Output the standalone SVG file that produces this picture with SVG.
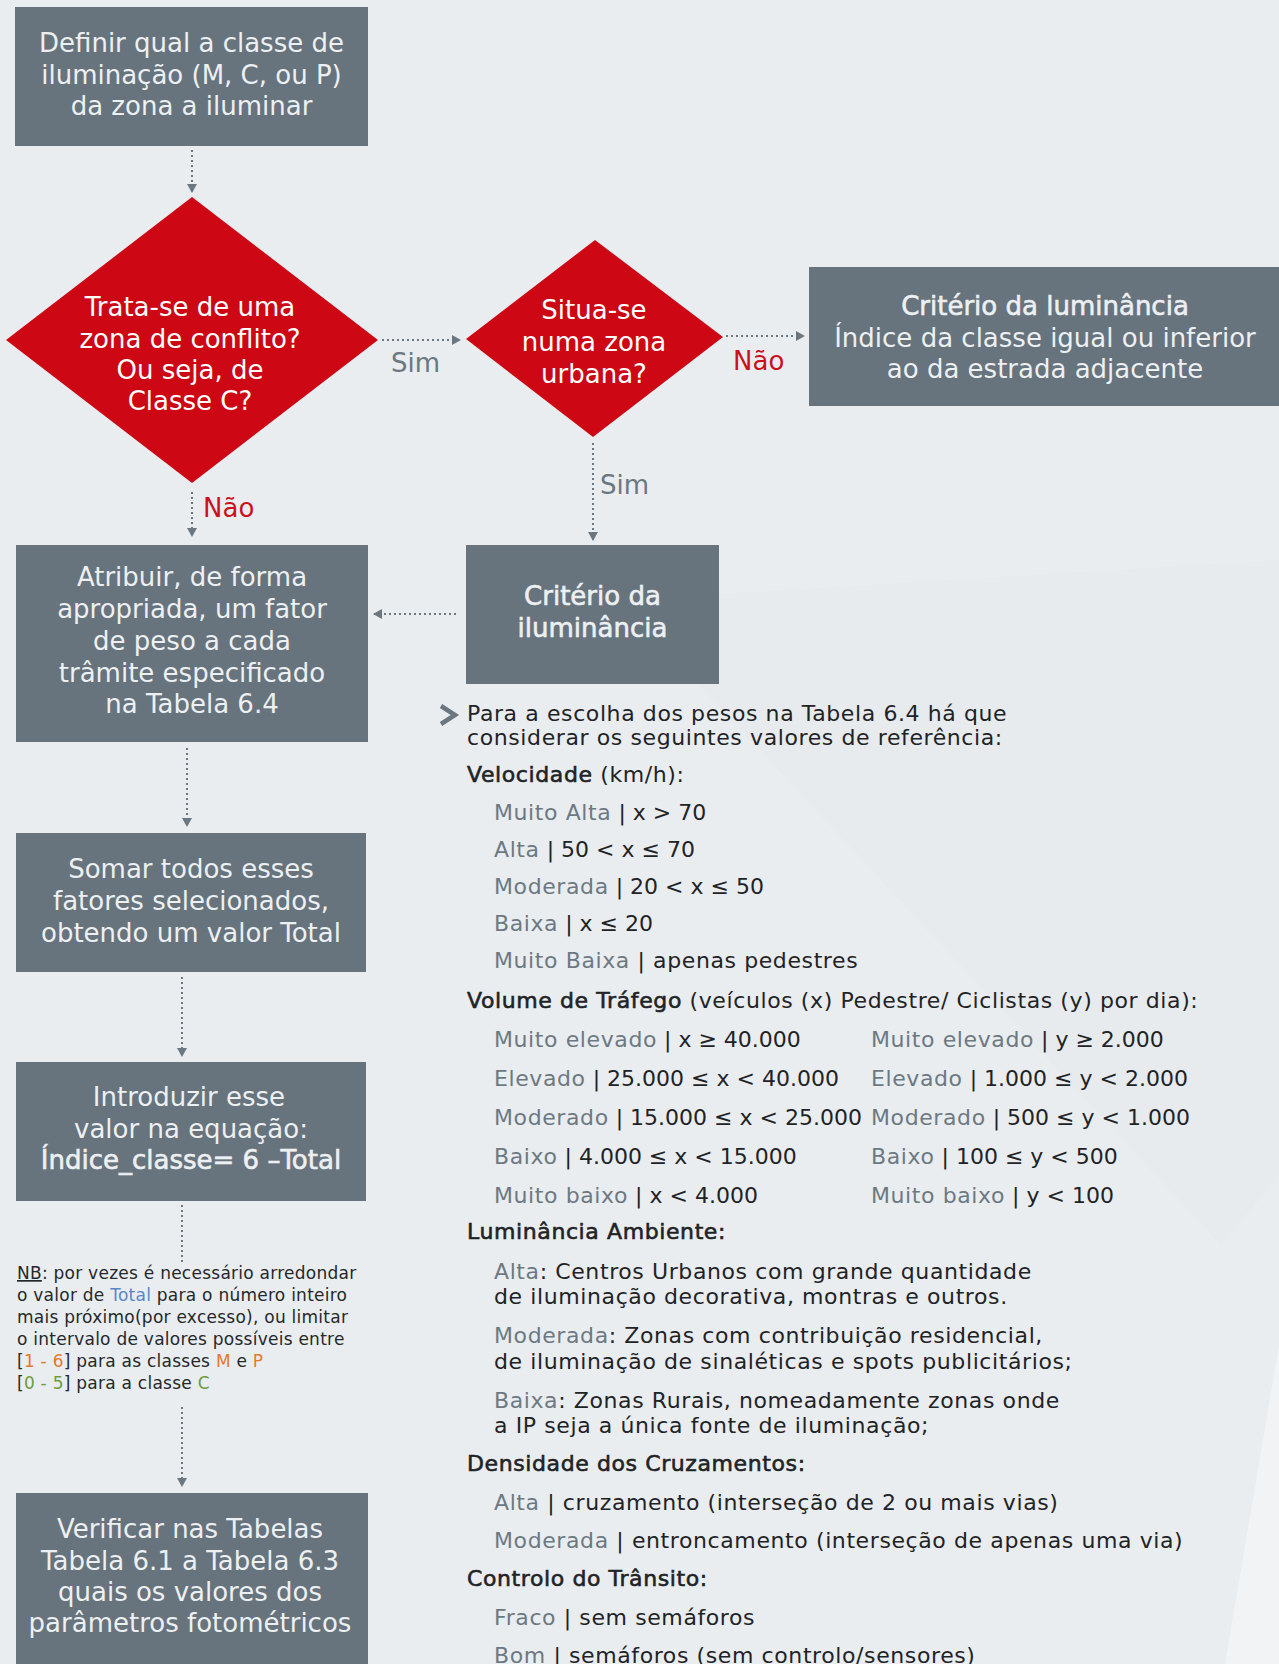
<svg xmlns="http://www.w3.org/2000/svg" width="1279" height="1664" viewBox="0 0 1279 1664">
  <defs>
    <style>
      .bg { fill: #e9edf0; }
      .box { fill: #67747d; }
      .dia { fill: #cd0714; }
      .bt { font-family: "DejaVu Sans", "Liberation Sans", sans-serif; font-size: 26px; fill: #edf0f2; text-anchor: middle; }
      .dt { font-family: "DejaVu Sans", "Liberation Sans", sans-serif; font-size: 26px; fill: #ffffff; text-anchor: middle; }
      .semi { stroke: #edf0f2; stroke-width: 0.6px; }
      .lbl { font-family: "DejaVu Sans", "Liberation Sans", sans-serif; font-size: 26px; }
      .lg { fill: #6b7780; }
      .lr { fill: #cc1020; }
      .conn { stroke: #6b7781; stroke-width: 2; stroke-dasharray: 2 3; fill: none; }
      .rt { font-family: "DejaVu Sans", "Liberation Sans", sans-serif; font-size: 22px; letter-spacing: 0.6px; fill: #1f2326; }
      .num { letter-spacing: 0px; }
      .num .gk { letter-spacing: 0.6px; }
      .hd { stroke: #1f2326; stroke-width: 0.6px; }
      .gk { fill: #6d7982; }
      .nb { font-family: "DejaVu Sans", "Liberation Sans", sans-serif; font-size: 17px; letter-spacing: 0.25px; fill: #262829; }
      .blue { fill: #5a86c6; }
      .orange { fill: #e5792a; }
      .green { fill: #6e9b3b; }
    </style>
    <marker id="arrow" markerUnits="userSpaceOnUse" markerWidth="10" markerHeight="10" refX="9" refY="5" orient="auto">
      <path d="M0,0 L9,5 L0,10 z" fill="#6b7781"/>
    </marker>
  </defs>

  <!-- page background with faint facets -->
  <rect class="bg" x="0" y="0" width="1279" height="1664"/>
  <polygon points="620,600 1279,560 1279,1175 1221,1245" fill="#e4e8eb" opacity="0.35"/>
  <polygon points="1279,1345 1279,1664 1225,1664" fill="#f1f3f5"/>

  <!-- connectors -->
  <g id="connectors">
    <line class="conn" x1="192" y1="150" x2="192" y2="193" marker-end="url(#arrow)"/>
    <line class="conn" x1="382" y1="340" x2="461" y2="340" marker-end="url(#arrow)"/>
    <line class="conn" x1="726" y1="336" x2="805" y2="336" marker-end="url(#arrow)"/>
    <line class="conn" x1="192" y1="492" x2="192" y2="537" marker-end="url(#arrow)"/>
    <line class="conn" x1="593" y1="443" x2="593" y2="541" marker-end="url(#arrow)"/>
    <line class="conn" x1="456" y1="614" x2="373" y2="614" marker-end="url(#arrow)"/>
    <line class="conn" x1="187" y1="748" x2="187" y2="827" marker-end="url(#arrow)"/>
    <line class="conn" x1="182" y1="977" x2="182" y2="1057" marker-end="url(#arrow)"/>
    <line class="conn" x1="182" y1="1205" x2="182" y2="1263"/>
    <line class="conn" x1="182" y1="1407" x2="182" y2="1487" marker-end="url(#arrow)"/>
    <text class="lbl lg" x="391" y="372">Sim</text>
    <text class="lbl lr" x="733" y="370">Não</text>
    <text class="lbl lr" x="203" y="517">Não</text>
    <text class="lbl lg" x="600" y="494">Sim</text>
  </g>

  <g id="n-definir">
    <rect class="box" x="15" y="7" width="353" height="139"/>
    <text class="bt" x="191.5" y="52">Definir qual a classe de</text>
    <text class="bt" x="191.5" y="83.5">iluminação (M, C, ou P)</text>
    <text class="bt" x="191.5" y="115">da zona a iluminar</text>
  </g>

  <g id="n-conflito">
    <polygon class="dia" points="192,197 378,340 192,483 6,340"/>
    <text class="dt" x="190" y="316">Trata-se de uma</text>
    <text class="dt" x="190" y="347.5">zona de conflito?</text>
    <text class="dt" x="190" y="378.5">Ou seja, de</text>
    <text class="dt" x="190" y="410">Classe C?</text>
  </g>

  <g id="n-urbana">
    <polygon class="dia" points="595,240 723,337 593,437 466,339"/>
    <text class="dt" x="594" y="319">Situa-se</text>
    <text class="dt" x="594" y="351">numa zona</text>
    <text class="dt" x="594" y="383">urbana?</text>
  </g>

  <g id="n-luminancia">
    <rect class="box" x="809" y="267" width="470" height="139"/>
    <text class="bt semi" x="1045" y="315">Critério da luminância</text>
    <text class="bt" x="1045" y="347">Índice da classe igual ou inferior</text>
    <text class="bt" x="1045" y="378">ao da estrada adjacente</text>
  </g>

  <g id="n-iluminancia">
    <rect class="box" x="466" y="545" width="253" height="139"/>
    <text class="bt semi" x="592.5" y="605">Critério da</text>
    <text class="bt semi" x="592.5" y="637">iluminância</text>
  </g>

  <g id="n-atribuir">
    <rect class="box" x="16" y="545" width="352" height="197"/>
    <text class="bt" x="192" y="586">Atribuir, de forma</text>
    <text class="bt" x="192" y="618">apropriada, um fator</text>
    <text class="bt" x="192" y="650">de peso a cada</text>
    <text class="bt" x="192" y="682">trâmite especificado</text>
    <text class="bt" x="192" y="713">na Tabela 6.4</text>
  </g>

  <g id="n-somar">
    <rect class="box" x="16" y="833" width="350" height="139"/>
    <text class="bt" x="191" y="878">Somar todos esses</text>
    <text class="bt" x="191" y="910">fatores selecionados,</text>
    <text class="bt" x="191" y="942">obtendo um valor Total</text>
  </g>

  <g id="n-introduzir">
    <rect class="box" x="16" y="1062" width="350" height="139"/>
    <text class="bt" x="189" y="1106">Introduzir esse</text>
    <text class="bt" x="191" y="1138">valor na equação:</text>
    <text class="bt semi" x="191" y="1169">Índice_classe= 6 –Total</text>
  </g>

  <g id="n-nota">
    <text class="nb" x="17" y="1279"><tspan text-decoration="underline">NB</tspan>: por vezes é necessário arredondar</text>
    <text class="nb" x="17" y="1301">o valor de <tspan class="blue">Total</tspan> para o número inteiro</text>
    <text class="nb" x="17" y="1323">mais próximo(por excesso), ou limitar</text>
    <text class="nb" x="17" y="1345">o intervalo de valores possíveis entre</text>
    <text class="nb" x="17" y="1367">[<tspan class="orange">1 - 6</tspan>] para as classes <tspan class="orange">M</tspan> e <tspan class="orange">P</tspan></text>
    <text class="nb" x="17" y="1389">[<tspan class="green">0 - 5</tspan>] para a classe <tspan class="green">C</tspan></text>
  </g>

  <g id="n-verificar">
    <rect class="box" x="16" y="1493" width="352" height="171"/>
    <text class="bt" x="190" y="1538">Verificar nas Tabelas</text>
    <text class="bt" x="190" y="1570">Tabela 6.1 a Tabela 6.3</text>
    <text class="bt" x="190" y="1601">quais os valores dos</text>
    <text class="bt" x="190" y="1632">parâmetros fotométricos</text>
  </g>

  <!-- reference values for the weights of Tabela 6.4 -->
  <g id="n-referencias">
    <polyline points="441,706 455,715 441,724" fill="none" stroke="#6b7780" stroke-width="4.5"/>
    <text class="rt" x="467" y="721">Para a escolha dos pesos na Tabela 6.4 há que</text>
    <text class="rt" x="467" y="745">considerar os seguintes valores de referência:</text>

    <text class="rt" x="467" y="782"><tspan class="hd">Velocidade</tspan> (km/h):</text>
    <text class="rt num" x="494" y="820"><tspan class="gk">Muito Alta</tspan> | x &gt; 70</text>
    <text class="rt num" x="494" y="857"><tspan class="gk">Alta</tspan> | 50 &lt; x ≤ 70</text>
    <text class="rt num" x="494" y="894"><tspan class="gk">Moderada</tspan> | 20 &lt; x ≤ 50</text>
    <text class="rt num" x="494" y="931"><tspan class="gk">Baixa</tspan> | x ≤ 20</text>
    <text class="rt" x="494" y="968"><tspan class="gk">Muito Baixa</tspan> | apenas pedestres</text>

    <text class="rt" x="467" y="1008"><tspan class="hd">Volume de Tráfego</tspan> (veículos (x) Pedestre/ Ciclistas (y) por dia):</text>
    <text class="rt num" x="494" y="1047"><tspan class="gk">Muito elevado</tspan> | x ≥ 40.000</text>
    <text class="rt num" x="494" y="1086"><tspan class="gk">Elevado</tspan> | 25.000 ≤ x &lt; 40.000</text>
    <text class="rt num" x="494" y="1125"><tspan class="gk">Moderado</tspan> | 15.000 ≤ x &lt; 25.000</text>
    <text class="rt num" x="494" y="1164"><tspan class="gk">Baixo</tspan> | 4.000 ≤ x &lt; 15.000</text>
    <text class="rt num" x="494" y="1203"><tspan class="gk">Muito baixo</tspan> | x &lt; 4.000</text>
    <text class="rt num" x="871" y="1047"><tspan class="gk">Muito elevado</tspan> | y ≥ 2.000</text>
    <text class="rt num" x="871" y="1086"><tspan class="gk">Elevado</tspan> | 1.000 ≤ y &lt; 2.000</text>
    <text class="rt num" x="871" y="1125"><tspan class="gk">Moderado</tspan> | 500 ≤ y &lt; 1.000</text>
    <text class="rt num" x="871" y="1164"><tspan class="gk">Baixo</tspan> | 100 ≤ y &lt; 500</text>
    <text class="rt num" x="871" y="1203"><tspan class="gk">Muito baixo</tspan> | y &lt; 100</text>

    <text class="rt hd" x="467" y="1239">Luminância Ambiente:</text>
    <text class="rt" x="494" y="1279"><tspan class="gk">Alta</tspan>: Centros Urbanos com grande quantidade</text>
    <text class="rt" x="494" y="1304">de iluminação decorativa, montras e outros.</text>
    <text class="rt" x="494" y="1343"><tspan class="gk">Moderada</tspan>: Zonas com contribuição residencial,</text>
    <text class="rt" x="494" y="1369">de iluminação de sinaléticas e spots publicitários;</text>
    <text class="rt" x="494" y="1408"><tspan class="gk">Baixa</tspan>: Zonas Rurais, nomeadamente zonas onde</text>
    <text class="rt" x="494" y="1433">a IP seja a única fonte de iluminação;</text>

    <text class="rt hd" x="467" y="1471">Densidade dos Cruzamentos:</text>
    <text class="rt" x="494" y="1510"><tspan class="gk">Alta</tspan> | cruzamento (interseção de 2 ou mais vias)</text>
    <text class="rt" x="494" y="1548"><tspan class="gk">Moderada</tspan> | entroncamento (interseção de apenas uma via)</text>

    <text class="rt hd" x="467" y="1586">Controlo do Trânsito:</text>
    <text class="rt" x="494" y="1625"><tspan class="gk">Fraco</tspan> | sem semáforos</text>
    <text class="rt" x="494" y="1663"><tspan class="gk">Bom</tspan> | semáforos (sem controlo/sensores)</text>
  </g>
</svg>
